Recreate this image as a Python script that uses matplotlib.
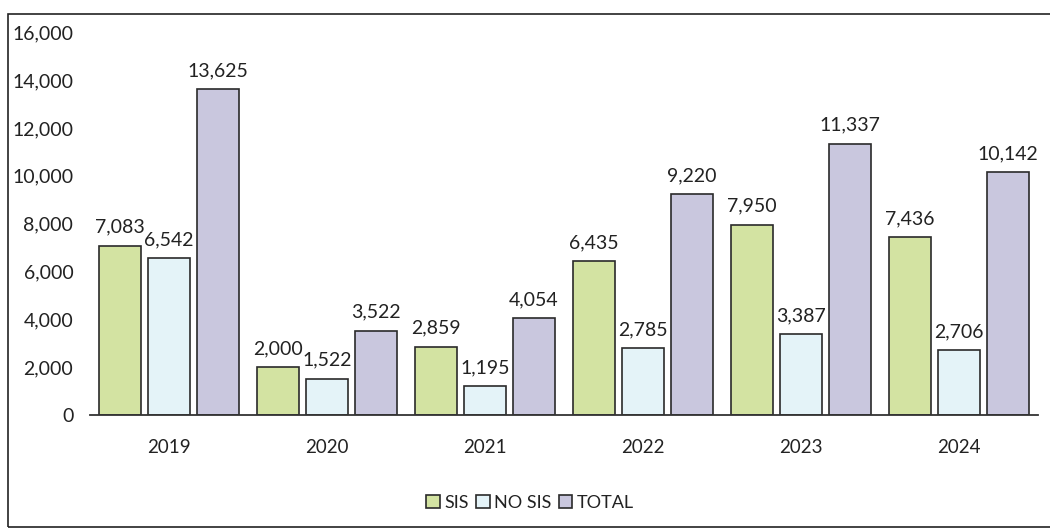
import matplotlib
matplotlib.use("Agg")
import matplotlib.pyplot as plt
import numpy as np
from matplotlib.patches import Rectangle

years = ["2019", "2020", "2021", "2022", "2023", "2024"]
sis = [7083, 2000, 2859, 6435, 7950, 7436]
no_sis = [6542, 1522, 1195, 2785, 3387, 2706]
total = [13625, 3522, 4054, 9220, 11337, 10142]
series_names = ["SIS", "NO SIS", "TOTAL"]
colors = ["#d3e3a2", "#e4f3f8", "#c9c7de"]

plt.rcParams['font.family'] = ['Lato', 'DejaVu Sans']

fig = plt.figure(figsize=(10.5, 5.28), dpi=100)
ax = fig.add_axes([0.0857, 0.214, 0.9029, 0.725])

x = np.arange(len(years))
w = 0.27
off = 0.31
for i, (vals, name, c) in enumerate(zip([sis, no_sis, total], series_names, colors)):
    pos = x + (i - 1) * off
    ax.bar(pos, vals, width=w, color=c, edgecolor="#2a2a2a", linewidth=1.2, label=name)
    for p, v in zip(pos, vals):
        ax.text(p, v + 420, f"{v:,}", ha="center", va="bottom", fontsize=14, color="#222222")

ax.set_ylim(0, 16000)
ax.set_xlim(-0.5, len(years) - 0.5)
ax.set_yticks(np.arange(0, 16001, 2000))
ax.yaxis.set_major_formatter(matplotlib.ticker.FuncFormatter(lambda v, p: f"{int(v):,}"))
ax.set_xticks(x)
ax.set_xticklabels(years)
ax.tick_params(axis="y", length=0, labelsize=14, pad=12, colors="#222222")
ax.tick_params(axis="x", length=0, labelsize=13.5, pad=17, colors="#222222")
for s in ["top", "right", "left"]:
    ax.spines[s].set_visible(False)
ax.spines["bottom"].set_color("#333333")
ax.spines["bottom"].set_linewidth(1.3)

leg = fig.legend(loc="center", bbox_to_anchor=(0.505, 0.048), ncol=3, frameon=False,
                 fontsize=13, handlelength=0.75, handleheight=0.75, handletextpad=0.25,
                 columnspacing=0.4, labelcolor="#222222")

fig.patches.append(Rectangle((8 / 1050, 1 - 527 / 528), 1.2, (527 - 14) / 528,
                             transform=fig.transFigure, fill=False,
                             edgecolor="#222222", linewidth=1.2))

fig.savefig("out.png", dpi=100, facecolor="white")
